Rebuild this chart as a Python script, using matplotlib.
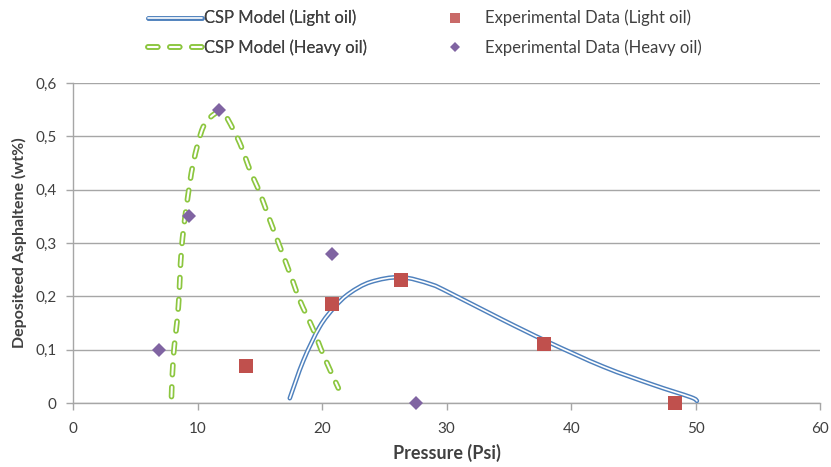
import matplotlib
matplotlib.use("Agg")
import numpy as np
import matplotlib.pyplot as plt
import matplotlib.patheffects as pe
from matplotlib.lines import Line2D
from matplotlib.path import Path
from matplotlib.patches import PathPatch
from matplotlib.ticker import FuncFormatter

plt.rcParams['font.family'] = ['Lato', 'DejaVu Sans']
plt.rcParams['lines.scale_dashes'] = False

# CSP model curves
light_model_p = [17.4, 18.5, 19.8, 21.0, 22.2, 23.9, 26.3, 28.7, 30.3, 34.5, 38.1, 42.6, 46.6, 49.6, 50.1]
light_model_w = [0.009, 0.080, 0.143, 0.180, 0.206, 0.227, 0.236, 0.223, 0.206, 0.156, 0.115, 0.068, 0.034, 0.011, 0.004]

heavy_model_p = [7.9, 8.05, 8.45, 8.7, 9.1, 9.65, 10.45, 11.4, 12.0, 12.45, 13.4, 14.2, 15.0, 15.8, 17.4, 18.2, 19.3, 20.1, 21.3]
heavy_model_w = [0.012, 0.087, 0.180, 0.287, 0.368, 0.450, 0.518, 0.543, 0.546, 0.531, 0.487, 0.437, 0.394, 0.343, 0.244, 0.193, 0.137, 0.090, 0.028]

# Experimental measurements
light_exp_p = [13.9, 20.8, 26.3, 37.8, 48.3]
light_exp_w = [0.07, 0.185, 0.23, 0.11, 0.0]

heavy_exp_p = [6.9, 9.3, 11.7, 20.8, 27.5]
heavy_exp_w = [0.10, 0.35, 0.55, 0.28, 0.0]

y_ticks = [0, 0.1, 0.2, 0.3, 0.4, 0.5, 0.6]
x_ticks = [0, 10, 20, 30, 40, 50, 60]

BLUE = '#4F81BD'
GREEN = '#8CC63F'
RED = '#C0504D'
PURPLE = '#8064A2'
TEXT = '#404040'
GRID = '#A6A6A6'

BLUE_OUT, BLUE_IN = 3.3, 1.2
GREEN_OUT, GREEN_IN = 4.0, 1.5
DASH = (0, (7.0, 8.8))


def smooth_path(xs, ys):
    """Smoothed (Catmull-Rom style) Bezier path through the given points."""
    pts = np.column_stack([xs, ys]).astype(float)
    ext = np.vstack([pts[0], pts, pts[-1]])
    verts = [pts[0]]
    codes = [Path.MOVETO]
    for i in range(1, len(ext) - 2):
        p0, p1, p2, p3 = ext[i - 1], ext[i], ext[i + 1], ext[i + 2]
        c1 = p1 + (p2 - p0) / 6.0
        c2 = p2 - (p3 - p1) / 6.0
        verts += [c1, c2, p2]
        codes += [Path.CURVE4] * 3
    return Path(np.array(verts), codes)


def double_stroke(ax, xs, ys, color, w_out, w_in, linestyle='solid'):
    path = smooth_path(xs, ys)
    kw = dict(fill=False, linestyle=linestyle, capstyle='round', joinstyle='round')
    ax.add_patch(PathPatch(path, edgecolor=color, lw=w_out, zorder=3, **kw))
    ax.add_patch(PathPatch(path, edgecolor='white', lw=w_in, zorder=3.1, **kw))


fig = plt.figure(figsize=(8.31, 4.67), dpi=100)
ax = fig.add_axes([0.088, 0.137, 0.899, 0.685])

double_stroke(ax, light_model_p, light_model_w, BLUE, BLUE_OUT, BLUE_IN)
double_stroke(ax, heavy_model_p, heavy_model_w, GREEN, GREEN_OUT, GREEN_IN, DASH)

ax.plot(light_exp_p, light_exp_w, linestyle='none', marker='s',
        markersize=9.5, color=RED, markeredgewidth=0, zorder=4, clip_on=False)
ax.plot(heavy_exp_p, heavy_exp_w, linestyle='none', marker='D',
        markersize=7, color=PURPLE, markeredgewidth=0, zorder=4, clip_on=False)

ax.set_xlim(0, 60)
ax.set_ylim(0, 0.6)
ax.set_xticks(x_ticks)
ax.set_yticks(y_ticks)


def comma_fmt(v, pos):
    if abs(v) < 1e-9:
        return '0'
    return f'{v:g}'.replace('.', ',')


ax.xaxis.set_major_formatter(FuncFormatter(comma_fmt))
ax.yaxis.set_major_formatter(FuncFormatter(comma_fmt))

ax.yaxis.grid(True, color=GRID, lw=1.0)
ax.set_axisbelow(True)
for side in ('top', 'right'):
    ax.spines[side].set_visible(False)
for side in ('left', 'bottom'):
    ax.spines[side].set_color(GRID)
    ax.spines[side].set_linewidth(1.0)
ax.tick_params(axis='both', direction='out', length=5, width=1, color=GRID,
               labelsize=11, labelcolor=TEXT)
ax.tick_params(axis='x', pad=9)
ax.tick_params(axis='y', pad=7)

ax.set_xlabel('Pressure (Psi)', fontsize=13, fontweight='bold', color=TEXT, labelpad=5)
ax.set_ylabel('Depositeed Asphaltene (wt%)', fontsize=11.5, fontweight='bold', color=TEXT, labelpad=6)


# legend proxies: white core with a coloured stroke around it
def line_proxy(color, w_out, w_in, ls='-'):
    return Line2D([], [], color='white', lw=w_in, linestyle=ls,
                  solid_capstyle='round', dash_capstyle='round',
                  path_effects=[pe.Stroke(linewidth=w_out, foreground=color), pe.Normal()])


model_leg = fig.legend([line_proxy(BLUE, BLUE_OUT, BLUE_IN),
                        line_proxy(GREEN, GREEN_OUT, GREEN_IN, DASH)],
                       ['CSP Model (Light oil)', 'CSP Model (Heavy oil)'],
                       loc='upper left', bbox_to_anchor=(0.1604, 1.011), frameon=False,
                       fontsize=12, labelcolor=TEXT, handlelength=3.2,
                       handletextpad=0.15, labelspacing=0.8)

sq_proxy = Line2D([], [], linestyle='none', marker='s', markersize=7.5,
                  color=RED, markeredgewidth=0, alpha=0.85)
dm_proxy = Line2D([], [], linestyle='none', marker='D', markersize=5.5,
                  color=PURPLE, markeredgewidth=0)
exp_leg = fig.legend([sq_proxy, dm_proxy],
                     ['Experimental Data (Light oil)', 'Experimental Data (Heavy oil)'],
                     loc='upper left', bbox_to_anchor=(0.5098, 1.011), frameon=False,
                     fontsize=12, labelcolor=TEXT, handlelength=2.0,
                     handletextpad=0.8, labelspacing=0.8)
fig.add_artist(model_leg)

fig.savefig('out.png', dpi=100)
